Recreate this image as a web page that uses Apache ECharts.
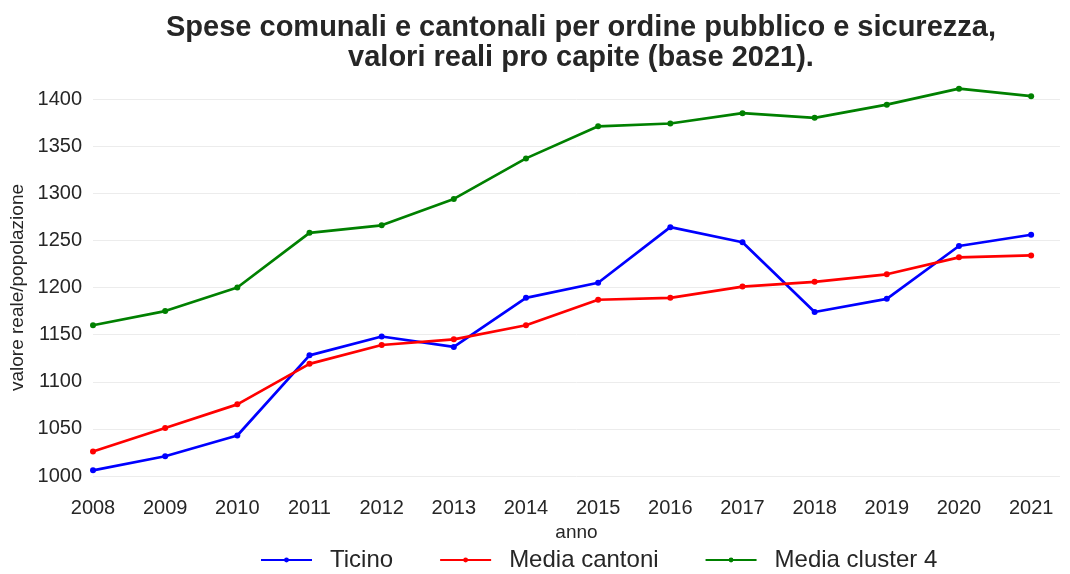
<!DOCTYPE html>
<html>
<head>
<meta charset="utf-8">
<script src="https://cdn.jsdelivr.net/npm/echarts@6/dist/echarts.min.js"></script>
<style>
  html, body { margin: 0; padding: 0; background: #fff; }
  #chart { width: 1070px; height: 574px; }
</style>
</head>
<body>
<div id="chart"></div>
<script>
// values
const years = [2008, 2009, 2010, 2011, 2012, 2013, 2014, 2015, 2016, 2017, 2018, 2019, 2020, 2021]
const ticino = [1006, 1021, 1043, 1128, 1148, 1137, 1189, 1205, 1264, 1248, 1174, 1188, 1244, 1256]
const mediaCantoni = [1026, 1051, 1076, 1119, 1139, 1145, 1160, 1187, 1189, 1201, 1206, 1214, 1232, 1234]
const mediaCluster4 = [1160, 1175, 1200, 1258, 1266, 1294, 1337, 1371, 1374, 1385, 1380, 1394, 1411, 1403]

const font = "Liberation Sans, Arial, sans-serif"

const pairs = (vals) => years.map((y, i) => [y, vals[i]])

const makeSeries = (name, vals, color) => ({
  name,
  type: "line",
  data: pairs(vals),
  clip: false,
  symbol: "circle",
  symbolSize: 6,
  lineStyle: { color, width: 2.7 },
  itemStyle: { color },
})

const chart = echarts.init(document.getElementById("chart"), null, { renderer: "canvas" })

chart.setOption({
  animation: false,
  backgroundColor: "#fff",
  title: {
    text: "Spese comunali e cantonali per ordine pubblico e sicurezza,\nvalori reali pro capite (base 2021).",
    left: 576,
    top: 8,
    textAlign: "center",
    textStyle: { fontFamily: font, fontSize: 29, fontWeight: "bold", color: "#262626", lineHeight: 30 },
  },
  legend: {
    top: 548,
    left: 260,
    padding: 0,
    itemWidth: 51,
    itemHeight: 6,
    itemGap: 46,
    textStyle: { fontFamily: font, fontSize: 24, color: "#262626", padding: [0, 0, 0, 13] },
    data: ["Ticino", "Media cantoni", "Media cluster 4"],
  },
  grid: { left: 93, right: 10, top: 99, height: 377, containLabel: false, outerBoundsMode: "none" },
  xAxis: {
    type: "value",
    min: 2008,
    max: 2021.4,
    interval: 1,
    name: "anno",
    nameLocation: "middle",
    nameGap: 46,
    nameTextStyle: { fontFamily: font, fontSize: 19, color: "#262626" },
    axisLine: { show: false },
    axisTick: { show: false },
    splitLine: { show: false },
    axisLabel: {
      showMaxLabel: false,
      margin: 22,
      fontFamily: font,
      fontSize: 20,
      color: "#262626",
      formatter: (v) => (Number.isInteger(v) ? String(v) : ""),
    },
  },
  yAxis: {
    type: "value",
    min: 1000,
    max: 1400,
    interval: 50,
    name: "valore reale/popolazione",
    nameLocation: "middle",
    nameGap: 66,
    nameMoveOverlap: false,
    nameRotate: 90,
    nameTextStyle: { fontFamily: font, fontSize: 19, color: "#262626" },
    axisLine: { show: false },
    axisTick: { show: false },
    splitLine: { lineStyle: { color: "#ececec", width: 1 } },
    axisLabel: {
      margin: 11,
      fontFamily: font,
      fontSize: 20,
      color: "#262626",
      formatter: (v) => String(v),
    },
  },
  series: [
    makeSeries("Ticino", ticino, "#0000ff"),
    makeSeries("Media cantoni", mediaCantoni, "#ff0000"),
    makeSeries("Media cluster 4", mediaCluster4, "#008000"),
  ],
})

window.addEventListener("resize", () => chart.resize())
</script>
</body>
</html>
